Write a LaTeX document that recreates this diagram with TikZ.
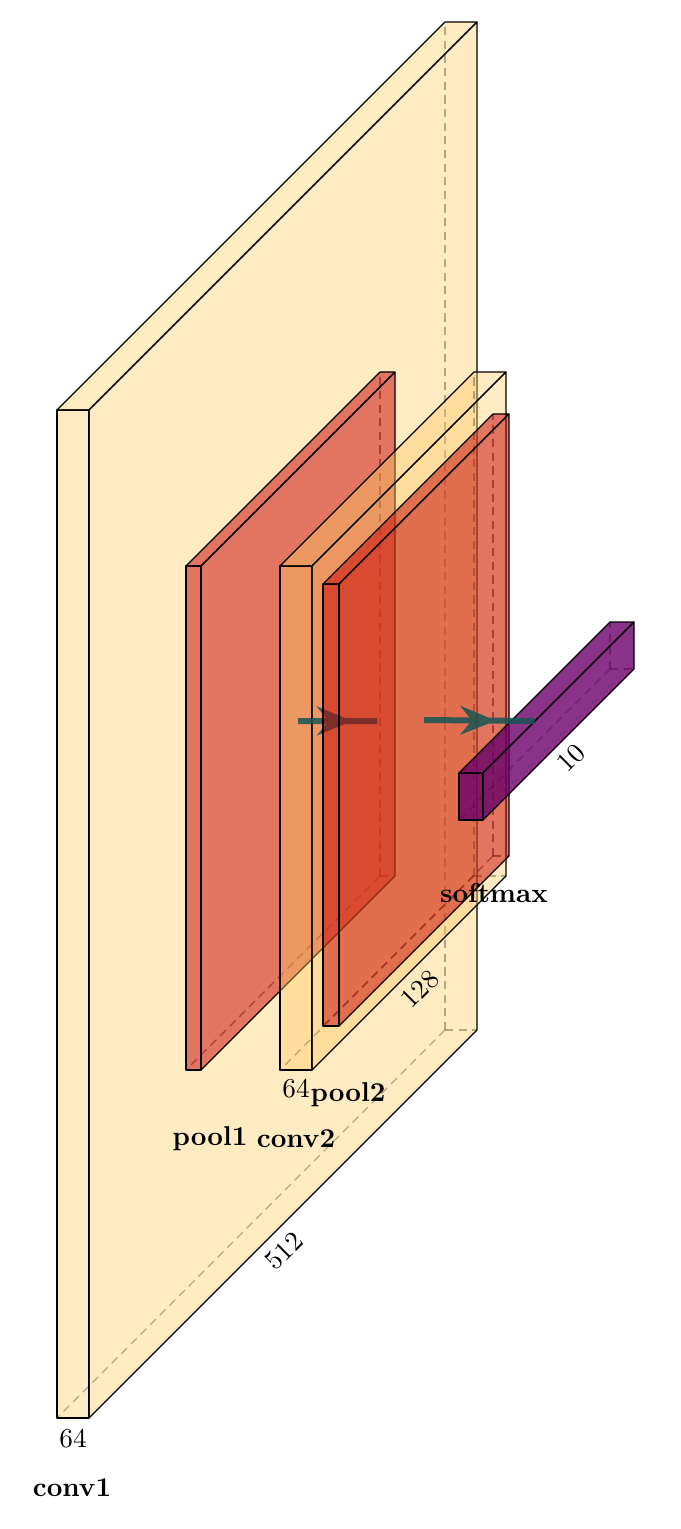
\documentclass[tikz,border=0pt]{standalone}
\usetikzlibrary{arrows.meta,decorations.markings}
\definecolor{convcol}{RGB}{255,204,102}
\definecolor{poolcol}{RGB}{196,0,0}
\definecolor{softcol}{RGB}{106,0,106}
\definecolor{edgecol}{RGB}{21,85,85}
\tikzset{
  face/.style={draw=black, line width=0.4pt, line join=round},
  hidden/.style={draw=black, draw opacity=0.45, densely dashed, line width=0.4pt},
  dimlabel/.style={inner sep=0pt},
  caption/.style={font=\bfseries, inner sep=0pt},
  connection/.style={line width=2.2pt, draw=edgecol},
  midtip/.style={postaction={decorate}, decoration={markings, mark=at position #1 with {\arrow{Stealth[length=13pt,width=10.5pt]}}}},
}
% #1 name, #2 x, #3 ytop, #4 width, #5 height, #6 depth, #7 colour, #8 opacity
\newcommand\nnbox[8]{%
  \draw[hidden] (#2+#6,#3+#5-#6) -- (#2,#3+#5);
  \draw[hidden] (#2+#6,#3+#5-#6) -- (#2+#4+#6,#3+#5-#6);
  \draw[hidden] (#2+#6,#3+#5-#6) -- (#2+#6,#3-#6);
  \filldraw[face, fill=#7, fill opacity=#8] (#2,#3) -- (#2+#4,#3) -- (#2+#4,#3+#5) -- (#2,#3+#5) -- cycle;
  \filldraw[face, fill=#7, fill opacity=#8] (#2,#3) -- (#2+#6,#3-#6) -- (#2+#4+#6,#3-#6) -- (#2+#4,#3) -- cycle;
  \filldraw[face, fill=#7, fill opacity=#8] (#2+#4,#3) -- (#2+#4+#6,#3-#6) -- (#2+#4+#6,#3+#5-#6) -- (#2+#4,#3+#5) -- cycle;
  \coordinate (#1-east) at (#2+#4+#6/2, #3+#5/2-#6/2);
  \coordinate (#1-west) at (#2+#6/2, #3+#5/2-#6/2);
}
\begin{document}
\begin{tikzpicture}[x=0.367pt, y=-0.367pt]
\useasboundingbox (0,0) rectangle (680,1529);
% conv1
\nnbox{conv1}{57}{410}{32}{1008}{388}{convcol}{0.4}
\node[dimlabel] (conv1x) at (73,1439) {64};
\node[dimlabel, rotate=45] (conv1z) at (284,1251) {512};
\node[caption] (conv1cap) at (72,1488) {conv1};
% pool1
\nnbox{pool1}{186}{566}{15}{504}{194}{poolcol}{0.5}
\node[caption] (pool1cap) at (210,1139) {pool1};
% conv2
\nnbox{conv2}{280}{566}{32}{504}{194}{convcol}{0.4}
\node[dimlabel] (conv2x) at (296,1089) {64};
\node[dimlabel, rotate=45] (conv2z) at (420,989) {128};
\node[caption] (conv2cap) at (296,1139) {conv2};
% connection pool1 -> conv2
\begin{scope}[transparency group, opacity=0.85]
\draw[connection, midtip=0.69] (pool1-east) -- (conv2-west);
\end{scope}
% pool2
\nnbox{pool2}{323}{584}{16}{442}{170}{poolcol}{0.5}
\node[caption] (pool2cap) at (348,1095) {pool2};
% softmax
\nnbox{soft}{459}{773}{24}{47}{151}{softcol}{0.8}
\node[dimlabel, rotate=45] (softz) at (571,758) {10};
\node[caption] (softcap) at (494,893) {softmax};
% connection pool2 -> softmax
\begin{scope}[transparency group, opacity=0.85]
\draw[connection, midtip=0.65] (pool2-east) -- (soft-west);
\end{scope}
\end{tikzpicture}
\end{document}
